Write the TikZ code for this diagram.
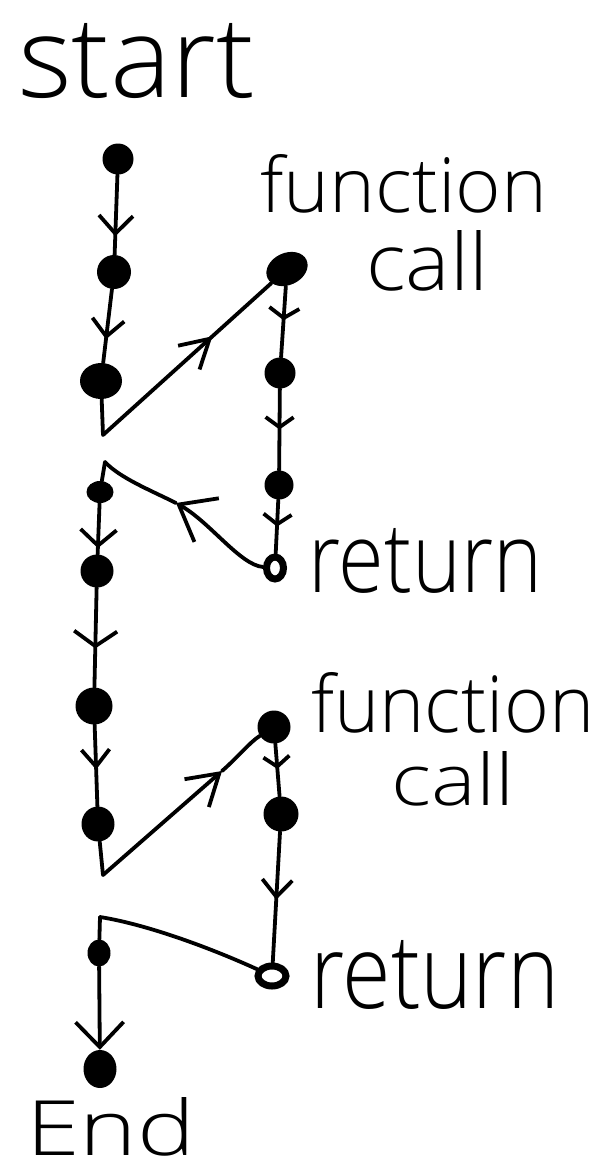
\documentclass[tikz,border=0pt]{standalone}
\usepackage{fontspec}
\setmainfont{Open Sans}
\IfFontExistsTF{Open Sans Light}{\newfontfamily\handfont{Open Sans Light}}{\newfontfamily\handfont{Open Sans}}
\usetikzlibrary{arrows.meta,decorations.markings,shapes.geometric}
\begin{document}
\begin{tikzpicture}[x=1pt,y=-1pt,
  dot/.style={circle,fill=black,inner sep=0pt,minimum size=#1},
  edot/.style n args={3}{ellipse,fill=black,inner sep=0pt,minimum width=#1,minimum height=#2,rotate=#3},
  ring/.style 2 args={ellipse,draw=black,fill=white,line width=7pt,inner sep=0pt,minimum width=#1,minimum height=#2},
  link/.style={line width=3.8pt,line cap=round,line join=round},
  midarr/.style n args={3}{postaction={decorate,decoration={markings,mark=at position #1 with {\arrow{Straight Barb[length=#2,width=#3]}}}}},
  lbl/.style={inner sep=0pt,anchor=base west,font=\handfont}]
\fill[white] (0,0) rectangle (601,1168);
\useasboundingbox (0,0) rectangle (601,1168);

% dots
\node[dot=31pt] (A1) at (118,159) {};
\node[dot=34pt] (A2) at (114,272) {};
\node[edot={42pt}{36pt}{0}] (A3) at (101,381) {};
\node[edot={43pt}{32pt}{25}] (B1) at (287,269) {};
\node[dot=31pt] (B2) at (280,373) {};
\node[dot=29pt] (B3) at (279,485) {};
\node[ring={17pt}{22pt}] (B4) at (275,568) {};
\node[edot={27pt}{22pt}{0}] (A4) at (100,492) {};
\node[dot=33pt] (A5) at (97,571) {};
\node[dot=37pt] (A6) at (94,706) {};
\node[edot={33pt}{35pt}{0}] (A7) at (98,824) {};
\node[dot=33pt] (B5) at (274,727) {};
\node[dot=35pt] (B6) at (281,814) {};
\node[ring={28pt}{20pt}] (B7) at (272,976) {};
\node[edot={23pt}{27pt}{0}] (A8) at (99,953) {};
\node[edot={33pt}{38pt}{0}] (A9) at (100,1069) {};

\coordinate (C1) at (103,435);
\coordinate (C2) at (105,462);
\coordinate (C3) at (103,875);
\coordinate (C4) at (100,917);
\coordinate (R1) at (176,503);
\coordinate (R2) at (222,771);

% connectors
\draw[link,midarr={0.77}{18pt}{34pt}] (A1) -- (A2);
\draw[link,midarr={0.68}{17pt}{32pt}] (A2) -- (A3);
\draw[link] (A3) -- (C1);
\draw[link,midarr={0.65}{28pt}{32pt}] (C1) -- (B1);
\draw[link,midarr={0.48}{10pt}{30pt}] (B1) -- (B2);
\draw[link,midarr={0.5}{10pt}{28pt}] (B2) -- (B3);
\draw[link,midarr={0.5}{10pt}{28pt}] (B3) -- (B4);
\draw[link,-{Straight Barb[length=32pt,width=50pt]}] (B4) .. controls (240,565) and (210,522) .. (R1);
\draw[link] (R1) .. controls (150,490) and (120,478) .. (C2);
\draw[link] (C2) -- (A4);
\draw[link,midarr={0.88}{16pt}{36pt}] (A4) -- (A5);
\draw[link,midarr={0.61}{15pt}{43pt}] (A5) -- (A6);
\draw[link,midarr={0.55}{17pt}{28pt}] (A6) -- (A7);
\draw[link] (A7) -- (C3);
\draw[link,-{Straight Barb[length=30pt,width=37pt]}] (C3) -- (R2);
\draw[link] (R2) .. controls (238,757) and (250,742) .. (B5);
\draw[link,midarr={0.48}{10pt}{26pt}] (B5) -- (B6);
\draw[link,midarr={0.52}{17pt}{30pt}] (B6) -- (B7);
\draw[link] (B7) .. controls (215,950) and (150,925) .. (C4);
\draw[link] (C4) -- (A8);
\draw[link,-{Straight Barb[length=25pt,width=48pt]}] (A8) -- (A9);

% labels
\node[lbl] (Lstart) at (18,97) {\resizebox{237pt}{74pt}{start}};
\node[lbl] (Lfun1) at (260,212) {\resizebox{287pt}{58pt}{function}};
\node[lbl] (Lcall1) at (366,290) {\resizebox{122pt}{60pt}{call}};
\node[lbl] (Lret1) at (308,592) {\resizebox{234pt}{64pt}{return}};
\node[lbl] (Lfun2) at (311,732) {\resizebox{283pt}{60pt}{function}};
\node[lbl] (Lcall2) at (391,805) {\resizebox{123pt}{54pt}{call}};
\node[lbl] (Lret2) at (310,1008) {\resizebox{249pt}{68pt}{return}};
\node[lbl] (Lend) at (26,1155) {\resizebox{169pt}{58pt}{End}};
\end{tikzpicture}
\end{document}
